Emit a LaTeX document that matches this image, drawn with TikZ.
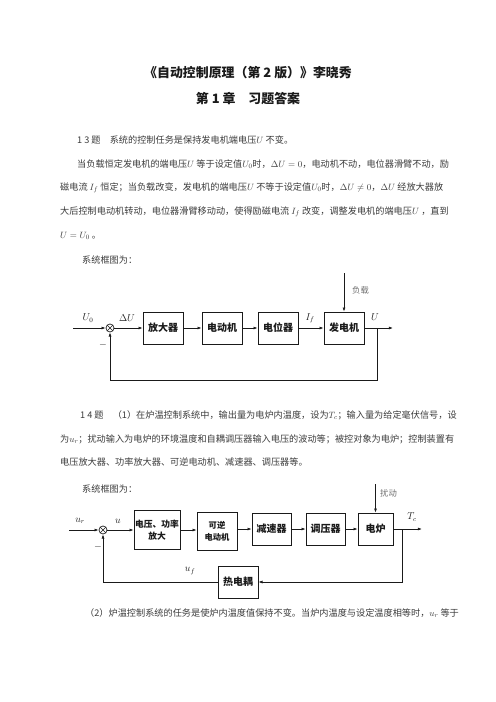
\documentclass[tikz,border=0pt]{standalone}
\usepackage{fontspec}
\usepackage{amsmath}
\setmainfont{Liberation Serif}
\newfontfamily\cjk{Noto Sans CJK SC}
\usetikzlibrary{arrows.meta}
\definecolor{pageink}{HTML}{1A1A1A}
\definecolor{bodyink}{HTML}{3C3C3C}
\definecolor{noteink}{HTML}{707070}

\begin{document}
\begin{tikzpicture}[
  x=1.2pt,
  y=-1.2pt,
  every node/.style={font=\cjk\fontsize{11}{13}\selectfont, bodyink},
  heading/.style={font=\cjk\bfseries\fontsize{15.5}{18}\selectfont, pageink},
  textline/.style={anchor=west, inner sep=0pt},
  block/.style={draw=pageink, line width=0.8pt, minimum width=48pt,
    minimum height=38.4pt, inner sep=1pt, align=center,
    font=\cjk\bfseries\fontsize{12}{14}\selectfont, pageink},
  sum/.style={draw=pageink, circle, line width=0.8pt, minimum size=9.6pt,
    inner sep=0pt},
  wire/.style={pageink, line width=0.8pt},
  signal/.style={wire, -{Latex[length=5pt, width=3.5pt]}},
  sig/.style={font=\fontsize{12}{13}\selectfont, pageink, inner sep=0pt},
  note/.style={font=\cjk\fontsize{10}{11}\selectfont, noteink, anchor=west,
    inner sep=0pt}
]
  % ---- page frame --------------------------------------------------------
  \useasboundingbox[fill=white] (0,0) rectangle (496,702);

  % ---- headings ----------------------------------------------------------
  \node[heading] (title) at (248,73) {《自动控制原理（第 2 版）》李晓秀};
  \node[heading] (chapter) at (248,99) {第 1 章\quad 习题答案};

  % ---- problem 1-3 -------------------------------------------------------
  \node[textline] (p13a) at (77,140)
    {1 3 题\quad 系统的控制任务是保持发电机端电压$U$ 不变。};
  \node[textline] (p13b) at (77,164)
    {当负载恒定发电机的端电压$U$ 等于设定值$U_0$时，$\Delta U = 0$，电动机不动，电位器滑臂不动，励};
  \node[textline] (p13c) at (60,188)
    {磁电流 $I_f$ 恒定；当负载改变，发电机的端电压$U$ 不等于设定值$U_0$时，$\Delta U \neq 0$，$\Delta U$ 经放大器放};
  \node[textline] (p13d) at (60,212)
    {大后控制电动机转动，电位器滑臂移动动，使得励磁电流 $I_f$ 改变，调整发电机的端电压$U$ ，直到};
  \node[textline] (p13e) at (60,236) {$U = U_0$ 。};
  \node[textline] (p13f) at (82,260) {系统框图为：};

  % ---- block diagram 1 ---------------------------------------------------
  \coordinate (in1) at (73,328);
  \node[sum] (sum1) at (110,328) {};
  \draw[wire] (sum1.north west) -- (sum1.south east)
              (sum1.north east) -- (sum1.south west);
  \node[block] (amp) at (163,328) {放大器};
  \node[block] (motor) at (222,328) {电动机};
  \node[block] (pot) at (278,328) {电位器};
  \node[block] (gen) at (344,328) {发电机};
  \coordinate (tap1) at (377,328);
  \coordinate (out1) at (393,328);
  \coordinate (load) at (344,273);

  \draw[signal] (in1) -- (sum1);
  \draw[signal] (sum1) -- (amp);
  \draw[signal] (amp) -- (motor);
  \draw[signal] (motor) -- (pot);
  \draw[signal] (pot) -- (gen);
  \draw[signal] (gen) -- (out1);
  \draw[signal] (load) -- (gen);
  \draw[signal] (tap1) -- ++(0,52) -| (sum1.south);

  \node[sig] (u0) at (88,318) {$U_0$};
  \node[sig] (du) at (127,318) {$\Delta U$};
  \node[sig] (if) at (310,318) {$I_f$};
  \node[sig] (uout) at (375,317) {$U$};
  \node[sig] (neg1) at (103,345) {$-$};
  \node[note] (loadtxt) at (352,290) {负载};

  % ---- problem 1-4 -------------------------------------------------------
  \node[textline] (p14a) at (80,415)
    {1 4 题\quad （1）在炉温控制系统中，输出量为电炉内温度，设为$T_c$；输入量为给定毫伏信号，设};
  \node[textline] (p14b) at (60,439)
    {为$u_r$；扰动输入为电炉的环境温度和自耦调压器输入电压的波动等；被控对象为电炉；控制装置有};
  \node[textline] (p14c) at (60,462)
    {电压放大器、功率放大器、可逆电动机、减速器、调压器等。};
  \node[textline] (p14d) at (82,489) {系统框图为：};

  % ---- block diagram 2 ---------------------------------------------------
  \coordinate (in2) at (69,530);
  \node[sum] (sum2) at (103,530) {};
  \draw[wire] (sum2.north west) -- (sum2.south east)
              (sum2.north east) -- (sum2.south west);
  \node[block, minimum width=55.2pt, minimum height=46.8pt,
    font=\cjk\bfseries\fontsize{10.5}{14}\selectfont] (amp2)
    at (157,530) {电压、功率\\放大};
  \node[block, minimum height=45.6pt,
    font=\cjk\bfseries\fontsize{10}{14}\selectfont] (rev)
    at (217,531) {可逆\\电动机};
  \node[block, minimum width=46.8pt] (gear) at (271.5,529) {减速器};
  \node[block, minimum width=46.8pt] (reg) at (325.5,529) {调压器};
  \node[block, minimum width=42pt] (furn) at (375.5,529) {电炉};
  \node[block] (tc) at (238,582) {热电耦};
  \coordinate (tap2) at (402,529);
  \coordinate (out2) at (422,529);
  \coordinate (dist) at (375.5,484);

  \draw[signal] (in2) -- (sum2);
  \draw[signal] (sum2) -- (sum2 -| amp2.west);
  \draw[signal] (amp2) -- (amp2 -| rev.west);
  \draw[signal] (rev.east |- gear) -- (gear);
  \draw[signal] (gear) -- (reg);
  \draw[signal] (reg) -- (furn);
  \draw[signal] (furn) -- (out2);
  \draw[signal] (dist) -- (furn);
  \draw[signal] (tap2) |- (tc.east);
  \draw[signal] (tc.west) -| (sum2.south);

  \node[sig] (ur) at (80,521) {$u_r$};
  \node[sig] (u) at (118,521) {$u$};
  \node[sig] (tcout) at (412,517) {$T_c$};
  \node[sig] (uf) at (190,571) {$u_f$};
  \node[sig] (neg2) at (98,547) {$-$};
  \node[note] (disttxt) at (380,493) {扰动};

  % ---- part (2) ----------------------------------------------------------
  \node[textline] (p14e) at (85,613)
    {（2）炉温控制系统的任务是使炉内温度值保持不变。当炉内温度与设定温度相等时，$u_r$ 等于};

\end{tikzpicture}
\end{document}
